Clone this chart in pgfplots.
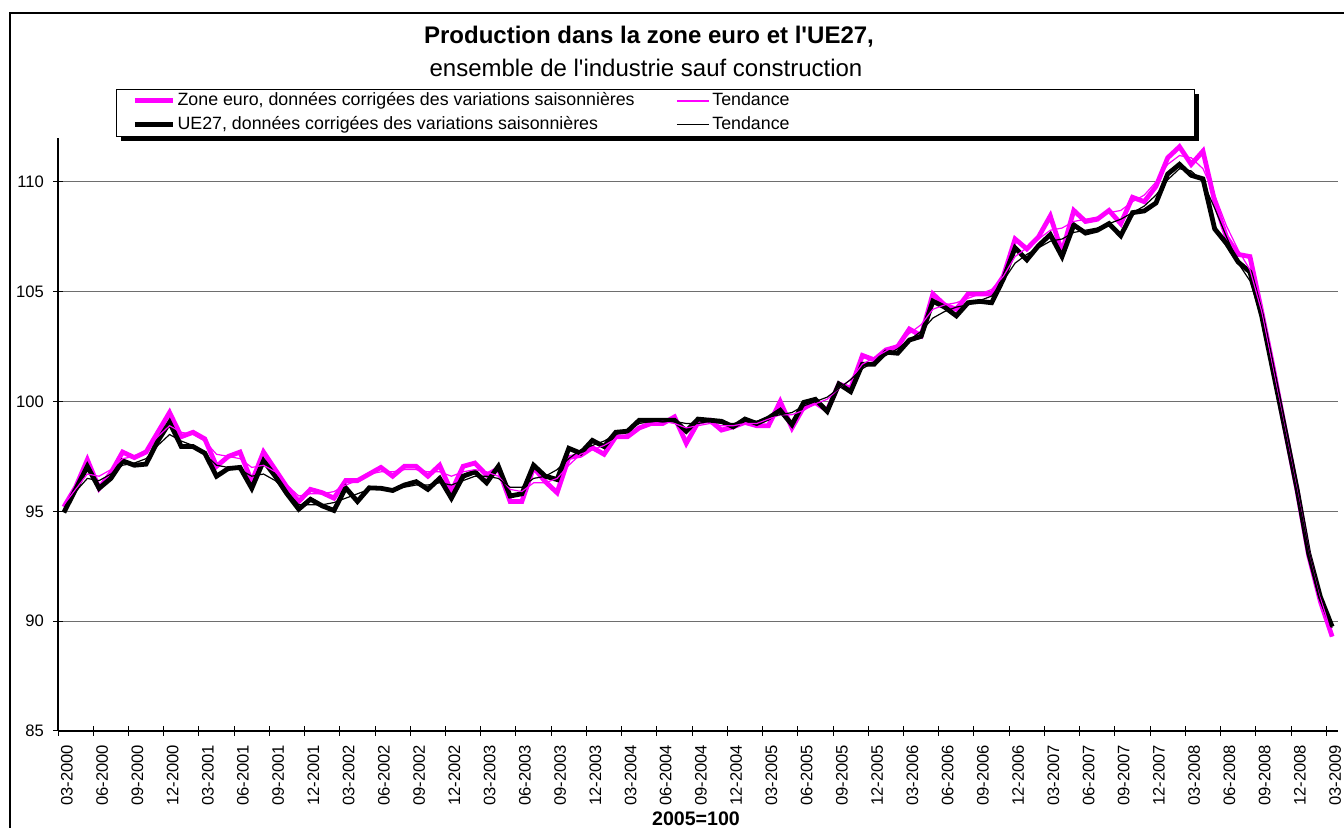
\documentclass[border=0pt]{standalone}
\usepackage{fontspec}
\setmainfont{Liberation Sans}
\usepackage{pgfplots}
\pgfplotsset{compat=1.18}
\usepackage{pgfplotstable}
\definecolor{mag}{RGB}{255,0,255}
\definecolor{gridc}{RGB}{110,110,110}

\pgfplotstableread{
m ea eat ue uet
0 95.2 95.3 94.95 95.0
1 96.1 96.0 96.0 95.9
2 97.35 96.7 97.05 96.5
3 96.05 96.6 96.05 96.4
4 96.75 96.9 96.5 96.7
5 97.7 97.4 97.3 97.1
6 97.45 97.5 97.1 97.2
7 97.7 97.8 97.15 97.4
8 98.6 98.4 98.2 98.0
9 99.5 98.9 99.05 98.5
10 98.4 98.6 97.95 98.2
11 98.6 98.5 97.95 98.0
12 98.3 98.2 97.65 97.6
13 97.05 97.6 96.6 97.1
14 97.5 97.5 96.95 97.0
15 97.7 97.4 97.0 96.9
16 96.35 97.0 96.05 96.6
17 97.7 97.1 97.3 96.7
18 96.9 96.8 96.6 96.4
19 96.1 96.2 95.8 95.9
20 95.45 95.7 95.1 95.3
21 96.0 95.8 95.55 95.3
22 95.85 95.8 95.25 95.3
23 95.6 95.9 95.04 95.4
24 96.4 96.2 96.07 95.6
25 96.4 96.4 95.45 95.8
26 96.7 96.7 96.07 96.0
27 97.0 96.8 96.05 96.0
28 96.6 96.8 95.95 96.0
29 97.05 96.9 96.2 96.1
30 97.05 96.9 96.35 96.2
31 96.6 96.8 96.0 96.2
32 97.1 96.8 96.5 96.3
33 95.9 96.6 95.6 96.2
34 97.05 96.8 96.6 96.4
35 97.2 96.9 96.8 96.6
36 96.65 96.8 96.3 96.6
37 96.95 96.6 97.05 96.5
38 95.45 96.0 95.7 96.1
39 95.45 95.9 95.8 96.1
40 97.0 96.3 97.1 96.5
41 96.35 96.3 96.6 96.6
42 95.85 96.5 96.45 96.9
43 97.45 97.1 97.87 97.4
44 97.55 97.6 97.65 97.8
45 97.9 97.8 98.23 98.0
46 97.6 98.0 97.95 98.2
47 98.4 98.3 98.6 98.5
48 98.4 98.5 98.65 98.7
49 98.8 98.8 99.15 99.0
50 99.0 99.0 99.15 99.1
51 99.0 99.1 99.15 99.1
52 99.3 99.0 99.15 99.1
53 98.1 98.8 98.65 99.0
54 99.05 98.9 99.2 99.0
55 99.15 99.0 99.15 99.1
56 98.7 98.9 99.1 99.0
57 98.85 98.9 98.85 99.0
58 99.05 99.0 99.2 99.1
59 98.9 99.0 99.0 99.1
60 98.9 99.2 99.25 99.3
61 100.0 99.4 99.6 99.4
62 98.8 99.4 98.95 99.5
63 99.75 99.6 99.96 99.8
64 99.95 99.9 100.1 100.0
65 99.6 100.1 99.55 100.2
66 100.8 100.6 100.8 100.6
67 100.6 101.0 100.45 101.0
68 102.1 101.7 101.7 101.5
69 101.9 102.0 101.7 101.8
70 102.35 102.3 102.25 102.1
71 102.5 102.6 102.2 102.4
72 103.3 103.1 102.8 102.8
73 103.0 103.5 102.97 103.2
74 104.9 104.2 104.57 103.8
75 104.4 104.4 104.3 104.1
76 104.2 104.5 103.9 104.3
77 104.9 104.7 104.5 104.4
78 104.9 104.9 104.56 104.6
79 104.9 105.1 104.5 104.8
80 105.7 105.7 105.57 105.5
81 107.4 106.6 107.0 106.3
82 106.95 107.0 106.45 106.7
83 107.5 107.4 107.1 107.0
84 108.45 107.8 107.6 107.3
85 106.8 107.9 106.6 107.4
86 108.7 108.2 108.04 107.7
87 108.2 108.3 107.67 107.8
88 108.3 108.4 107.8 107.9
89 108.7 108.6 108.1 108.1
90 108.1 108.7 107.55 108.3
91 109.3 109.1 108.6 108.6
92 109.1 109.4 108.68 108.9
93 109.8 110.0 109.04 109.4
94 111.1 110.8 110.36 110.1
95 111.6 111.2 110.8 110.6
96 110.8 111.1 110.3 110.5
97 111.4 110.6 110.14 110.0
98 109.1 109.4 107.86 108.8
99 107.5 108.0 107.2 107.5
100 106.7 106.9 106.35 106.3
101 106.6 106.0 105.9 105.5
102 104.1 104.1 103.9 103.8
103 101.5 101.4 101.3 101.2
104 98.7 98.7 98.7 98.6
105 96.0 96.0 96.05 95.9
106 93.0 93.3 93.1 93.3
107 90.9 91.1 91.1 91.2
108 89.3 89.3 89.75 89.7
}\datatable

\begin{document}
\begin{tikzpicture}
\useasboundingbox (-29pt,-48.5pt) rectangle (643pt,365.5pt);
% legend shadow
\fill[black] (31.5pt,295pt) rectangle (570.5pt,318.5pt);
\begin{axis}[
  scale only axis,
  width=640pt, height=296.5pt,
  xmin=-0.5, xmax=108.5, ymin=85, ymax=112,
  axis x line*=bottom, axis y line*=left,
  axis line style={black, line width=0.6pt, -},
  tick align=center,
  xtick={0,3,...,108},
  xticklabels={03-2000,06-2000,09-2000,12-2000,03-2001,06-2001,09-2001,12-2001,03-2002,06-2002,09-2002,12-2002,03-2003,06-2003,09-2003,12-2003,03-2004,06-2004,09-2004,12-2004,03-2005,06-2005,09-2005,12-2005,03-2006,06-2006,09-2006,12-2006,03-2007,06-2007,09-2007,12-2007,03-2008,06-2008,09-2008,12-2008,03-2009},
  minor xtick={-0.5,2.5,...,107.5},
  every major x tick/.style={draw=none},
  minor tick length=5pt, major tick length=5pt,
  every minor tick/.style={black, line width=0.5pt},
  every major y tick/.style={black, line width=0.5pt},
  ytick={85,90,...,110},
  ymajorgrids, xmajorgrids=false,
  grid style={gridc, line width=0.5pt},
  tick label style={font=\fontsize{8.3}{10}\selectfont},
  /pgf/number format/assume math mode=true,
  x tick label style={rotate=90, anchor=east, xshift=-1pt, yshift=-1.5pt},
  yticklabel style={xshift=-1pt},
  clip=false,
  legend style={at={(0.0453,1.0826)}, anchor=north west, draw=black, line width=0.4pt, fill=white,
    font=\fontsize{8.9}{10}\selectfont, inner xsep=8pt, inner ysep=0.5pt,
    nodes={inner sep=1.2pt}, row sep=1.5pt},
  legend columns=2, legend cell align=left,
]
\addplot[mag, line width=2.4pt, forget plot] table[x=m,y=ea] {\datatable};
\addplot[black, line width=2.4pt, forget plot] table[x=m,y=ue] {\datatable};
\addplot[mag, line width=0.6pt, forget plot] table[x=m,y=eat] {\datatable};
\addplot[black, line width=0.6pt, forget plot] table[x=m,y=uet] {\datatable};

\addlegendimage{legend image code/.code={\draw[mag, line width=2.4pt] (0pt,0pt) -- (19pt,0pt);}}
\addlegendentry{\makebox[248pt][l]{Zone euro, données corrigées des variations saisonnières}}
\addlegendimage{legend image code/.code={\draw[draw=mag, line width=1pt] (0pt,0pt) -- (16pt,0pt);}}
\addlegendentry{\makebox[232pt][l]{Tendance}}
\addlegendimage{legend image code/.code={\draw[black, line width=2.4pt] (0pt,0pt) -- (19pt,0pt);}}
\addlegendentry{UE27, données corrigées des variations saisonnières}
\addlegendimage{legend image code/.code={\draw[black, line width=0.7pt] (0pt,0pt) -- (16pt,0pt);}}
\addlegendentry{Tendance}
\end{axis}
\draw[black, line width=0.8pt] (-24pt,-60pt) -- (-24pt,359pt) -- (660pt,359pt);
\node[font=\fontsize{12}{14}\selectfont\bfseries] at (295.5pt,347pt) {Production dans la zone euro et l\textquotesingle UE27,};
\node[font=\fontsize{12}{14}\selectfont] at (294pt,331.5pt) {ensemble de l\textquotesingle industrie sauf construction};
\node[font=\fontsize{9.8}{12}\selectfont\bfseries] at (319pt,-44pt) {2005=100};
\end{tikzpicture}
\end{document}
